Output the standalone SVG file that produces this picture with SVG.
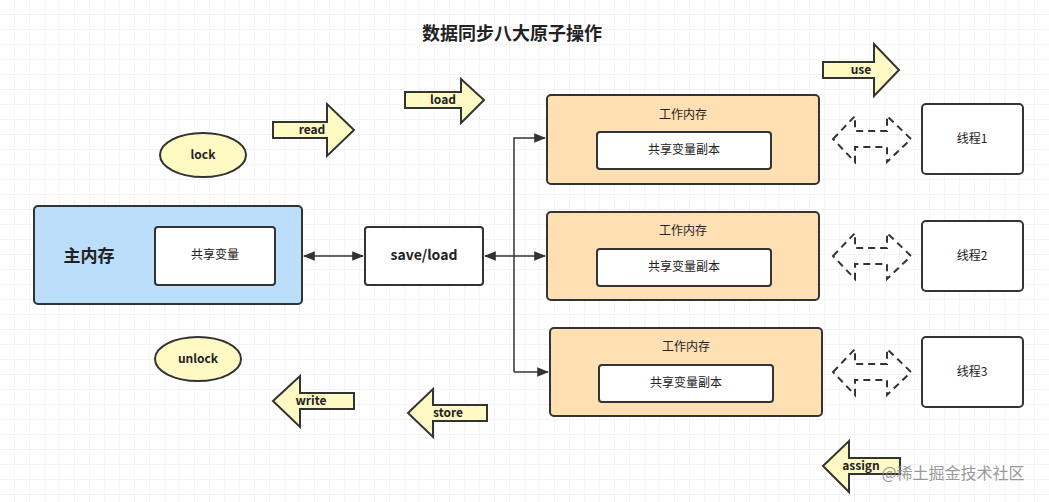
<svg xmlns="http://www.w3.org/2000/svg" width="1049" height="502" viewBox="0 0 1049 502">
<defs>
<pattern id="g" width="15" height="15" patternUnits="userSpaceOnUse"><path d="M15 0V15H0" fill="none" stroke="#e8e8e8" stroke-width="1"/></pattern>
<marker id="ah" viewBox="0 0 10 10" refX="9" refY="5" markerWidth="8" markerHeight="8" orient="auto-start-reverse"><path d="M0 1L10 5L0 9z" fill="#333"/></marker>
<style>
text{font-family:"Noto Sans CJK SC","Liberation Sans",sans-serif;fill:#222;text-anchor:middle;dominant-baseline:middle}
.b{font-weight:bold}
.box{stroke:#333;stroke-width:2}
.y{fill:#fff9c4;stroke:#333;stroke-width:2}
.d{fill:none;stroke:#333;stroke-width:2;stroke-dasharray:7 5}
.c{fill:none;stroke:#333;stroke-width:1.5}
</style>
</defs>
<rect width="1049" height="502" fill="#fff"/>
<rect width="1049" height="502" fill="url(#g)"/>
<text x="512" y="35" class="b" font-size="18">数据同步八大原子操作</text>
<g id="connectors">
<line class="c" x1="304" y1="256" x2="363" y2="256" marker-start="url(#ah)" marker-end="url(#ah)"/>
<line class="c" x1="485" y1="256" x2="514" y2="256" marker-start="url(#ah)"/>
<path class="c" d="M514 372V138H545" marker-end="url(#ah)"/>
<line class="c" x1="514" y1="256" x2="545" y2="256" marker-end="url(#ah)"/>
<path class="c" d="M514 372H548" marker-end="url(#ah)"/>
</g>
<g id="main"><rect class="box" x="34" y="206" width="268" height="98" rx="4" fill="#bbdefb"/><text x="89" y="257" class="b" font-size="17">主内存</text>
<rect class="box" x="155" y="227" width="120" height="58" rx="3" fill="#fff"/><text x="215" y="256" font-size="12">共享变量</text></g>
<g id="saveload"><rect class="box" x="365" y="227" width="118" height="58" rx="3" fill="#fff"/><text x="424" y="256" class="b" font-size="14">save/load</text></g>
<g id="wm1"><rect class="box" x="547" y="95" width="272" height="89" rx="4" fill="#ffe0b2"/><text x="683" y="116" font-size="12">工作内存</text><rect class="box" x="597" y="132" width="174" height="37" rx="3" fill="#fff"/><text x="684" y="151" font-size="12">共享变量副本</text></g>
<g id="wm2"><rect class="box" x="547" y="212" width="272" height="88" rx="4" fill="#ffe0b2"/><text x="683" y="232" font-size="12">工作内存</text><rect class="box" x="597" y="249" width="174" height="37" rx="3" fill="#fff"/><text x="684" y="268" font-size="12">共享变量副本</text></g>
<g id="wm3"><rect class="box" x="550" y="328" width="272" height="88" rx="4" fill="#ffe0b2"/><text x="686" y="348" font-size="12">工作内存</text><rect class="box" x="599" y="365" width="174" height="37" rx="3" fill="#fff"/><text x="686" y="384" font-size="12">共享变量副本</text></g>
<g id="t1"><rect class="box" x="922" y="104" width="101" height="70" rx="4" fill="#fff"/><text x="972" y="140" font-size="12">线程1</text></g>
<g id="t2"><rect class="box" x="922" y="221" width="101" height="70" rx="4" fill="#fff"/><text x="972" y="257" font-size="12">线程2</text></g>
<g id="t3"><rect class="box" x="922" y="337" width="101" height="70" rx="4" fill="#fff"/><text x="972" y="373" font-size="12">线程3</text></g>
<g id="dash1"><path class="d" d="M833 139L855 116V131H887V116L911 139L887 162V147H855V162Z"/></g>
<g id="dash2"><path class="d" d="M833 256L855 233V248H887V233L911 256L887 279V264H855V279Z"/></g>
<g id="dash3"><path class="d" d="M833 372L855 349V364H887V349L911 372L887 395V380H855V395Z"/></g>
<g id="read"><path class="y" d="M273 122H327V104L354 130L327 156V138H273Z"/><text x="312" y="131" class="b" font-size="12">read</text></g>
<g id="load"><path class="y" d="M405 92H461V79L484 100L461 123V108H405Z"/><text x="443" y="101" class="b" font-size="12">load</text></g>
<g id="use"><path class="y" d="M823 62H874V44L899 70L874 96V78H823Z"/><text x="861" y="71" class="b" font-size="12">use</text></g>
<g id="write"><path class="y" d="M273 401L300 376V393H354V409H300V427Z"/><text x="311" y="402" class="b" font-size="12">write</text></g>
<g id="store"><path class="y" d="M408 413L433 389V405H487V421H433V437Z"/><text x="448" y="414" class="b" font-size="12">store</text></g>
<g id="assign"><path class="y" d="M823 466L849 441V458H900V474H849V492Z"/><text x="861" y="467" class="b" font-size="12">assign</text></g>
<g id="lock"><ellipse cx="203" cy="155" rx="43" ry="22" fill="#fff9c4" stroke="#333" stroke-width="2"/><text x="203" y="156" class="b" font-size="12">lock</text></g>
<g id="unlock"><ellipse cx="198" cy="359" rx="43" ry="22" fill="#fff9c4" stroke="#333" stroke-width="2"/><text x="198" y="360" class="b" font-size="12">unlock</text></g>
<text x="953" y="475" font-size="16" style="fill:#888;opacity:.85">@稀土掘金技术社区</text>
</svg>
